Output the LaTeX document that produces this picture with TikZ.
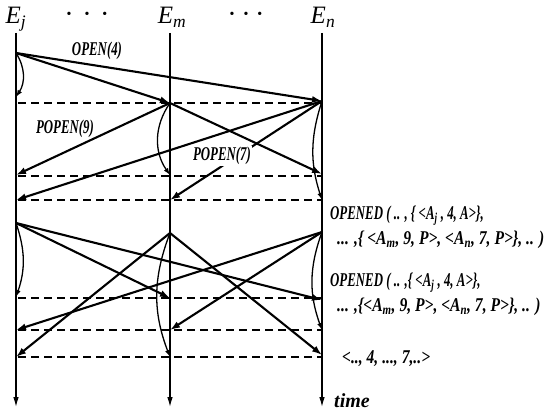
\documentclass[tikz,border=0pt]{standalone}
\usepackage{fontspec}
\setmainfont{Liberation Serif}
\newfontfamily\narrowfont[FakeStretch=0.66]{Liberation Serif}
\newfontfamily\widerfont[FakeStretch=0.8]{Liberation Serif}
\usetikzlibrary{arrows.meta}

\begin{document}
\begin{tikzpicture}[x=1pt,y=1pt,
                    life/.style={line width=1.1pt,-{Latex[length=10pt,width=5.5pt]}},
                    msg/.style={line width=2.1pt,-{Latex[length=10pt,width=7pt]}},
                    loc/.style={line width=1.3pt,-{Latex[length=7pt,width=5pt]}},
                    sync/.style={line width=2.1pt,dash pattern=on 8pt off 5pt},
                    ent/.style={font=\itshape\fontsize{25}{28}\selectfont,inner sep=0pt},
                    dots/.style={font=\fontsize{14}{14}\selectfont,inner sep=0pt},
                    lbl/.style={font=\narrowfont\bfseries\itshape\fontsize{19.5}{21}\selectfont,inner sep=1pt},
                    txt/.style={lbl,anchor=west,inner sep=0pt},
                    txtw/.style={txt,font=\widerfont\bfseries\itshape\fontsize{19.5}{21}\selectfont}]
  \useasboundingbox (0,0) rectangle (548,-414);
  % entities and their time lines
  \foreach \e/\x in {j/16,m/170,n/322} {
    \coordinate (\e top) at (\x,-33);
    \coordinate (\e bot) at (\x,-407);
    \draw[life] (\e top) -- (\e bot);
  }
  \node[ent] (Ej) at (16,-19) {E\textsubscript{j}};
  \node[ent] (Em) at (172,-17) {E\textsubscript{m}};
  \node[ent] (En) at (323,-17) {E\textsubscript{n}};
  \node[dots] (dots1) at (87,-15) {\textbullet\hspace{13pt}\textbullet\hspace{13pt}\textbullet};
  \node[dots] (dots2) at (246,-15) {\textbullet\hspace{9pt}\textbullet\hspace{9pt}\textbullet};
  % events on each line
  \foreach \y [count=\i] in {53,97,175,200,223,297,330,357} \coordinate (j\i) at (16,-\y);
  \foreach \y [count=\i] in {103,175,200,233,298,330,357} \coordinate (m\i) at (170,-\y);
  \foreach \y [count=\i] in {101,174,200,232,300,330,355} \coordinate (n\i) at (322,-\y);
  % synchronisation lines
  \foreach \y [count=\i] in {103,176,200,298,330,357} {
    \coordinate (dl\i) at (18,-\y);
    \coordinate (dr\i) at (322,-\y);
    \draw[sync] (dl\i) -- (dr\i);
  }
  % messages
  \foreach \a/\b in {j1/m1,j1/n1,m1/j3,m1/n2,n1/j4,n1/m3,j5/m5,j5/n5,m4/j8,m4/n7,n4/j7,n4/m6}
    \draw[msg] (\a) -- (\b);
  % local steps
  \foreach \a/\b/\d in {j1/j2/33,m1/m2/-35,n1/n3/-18,j5/j6/19,m4/m7/-21,n4/n6/-20}
    \draw[loc] (\a) to[bend left=\d] (\b);
  \node[lbl] (open) at (97,-51) {OPEN(4)};
  \node[lbl] (popen9) at (65,-129) {POPEN(9)};
  \node[lbl,fill=white] (popen7) at (222,-156) {POPEN(7)};
  % outcomes
  \node[txt] (opened1) at (330,-216) {OPENED ( .. , \{ <A\textsubscript{j} , 4, A>\},};
  \node[txtw] (opened1b) at (337,-240) {... ,\{ <A\textsubscript{m}, 9, P>, <A\textsubscript{n}, 7, P>\}, .. )};
  \node[txt] (opened2) at (330,-283) {OPENED ( .. ,\{ <A\textsubscript{j} , 4, A>\},};
  \node[txtw] (opened2b) at (337,-307) {... ,\{<A\textsubscript{m}, 9, P>, <A\textsubscript{n}, 7, P>\}, .. )};
  \node[txtw] (order) at (342,-359) {<.., 4, ..., 7,..>};
  \node[txt,font=\bfseries\itshape\fontsize{20}{22}\selectfont] (time) at (334,-401) {time};
\end{tikzpicture}
\end{document}
